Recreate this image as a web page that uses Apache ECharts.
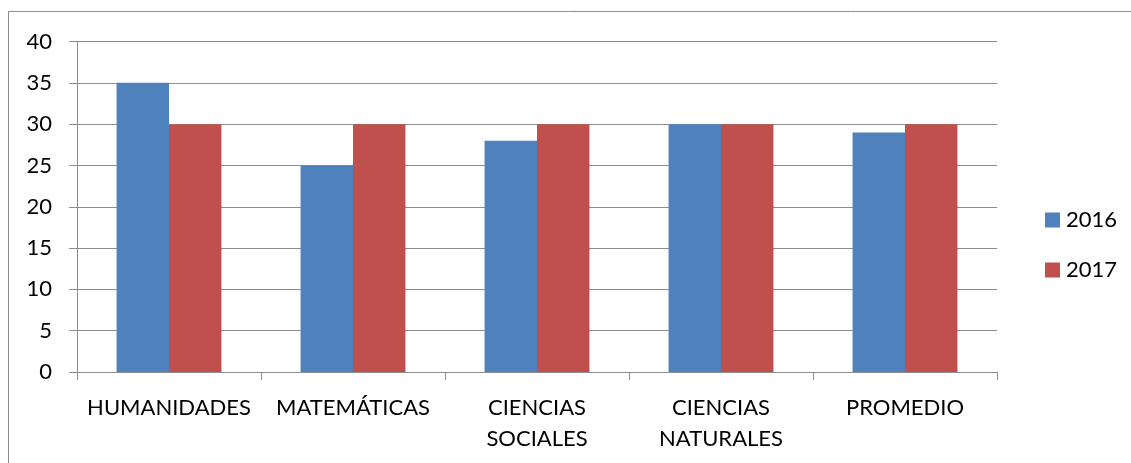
<!DOCTYPE html>
<html><head><meta charset="utf-8">
<script src="https://cdn.jsdelivr.net/npm/echarts@6/dist/echarts.min.js"></script>
<style>html,body{margin:0;padding:0;background:#fff}#c{width:1131px;height:463px}</style>
</head><body><div id="c"></div>
<script>
const categories = ['HUMANIDADES', 'MATEMÁTICAS', 'CIENCIAS\nSOCIALES', 'CIENCIAS\nNATURALES', 'PROMEDIO'];
const seriesNames = ['2016', '2017'];
const values2016 = [35, 25, 28, 30, 29];
const values2017 = [30, 30, 30, 30, 30];
const FONT = 'Lato';
const chart = echarts.init(document.getElementById('c'), null, {renderer: 'canvas'});
chart.setOption({
  animation: false,
  backgroundColor: '#fff',
  textStyle: {fontFamily: FONT, color: '#000'},
  graphic: [
    {type: 'line', shape: {x1: 8.5, y1: 11.5, x2: 1131, y2: 11.5}, style: {stroke: '#8c8c8c', lineWidth: 1}},
    {type: 'line', shape: {x1: 8.5, y1: 11.5, x2: 8.5, y2: 463}, style: {stroke: '#8c8c8c', lineWidth: 1}}
  ],
  grid: {left: 77, right: 134, top: 41.5, bottom: 91, containLabel: false},
  legend: {
    orient: 'vertical', left: 1040, top: 204, itemWidth: 15, itemHeight: 15, itemGap: 28,
    icon: 'rect', data: seriesNames,
    textStyle: {fontFamily: FONT, fontSize: 22, color: '#000', padding: [0, 0, 0, 1]}
  },
  xAxis: {
    type: 'category', data: categories,
    axisLine: {lineStyle: {color: '#8c8c8c', width: 1}},
    axisTick: {show: true, length: 8, lineStyle: {color: '#8c8c8c'}},
    axisLabel: {fontFamily: FONT, fontSize: 22, color: '#000', margin: 20, lineHeight: 31, interval: 0}
  },
  yAxis: {
    type: 'value', min: 0, max: 40, interval: 5,
    axisLine: {show: true, lineStyle: {color: '#8c8c8c', width: 1}},
    axisTick: {show: true, length: 8, lineStyle: {color: '#8c8c8c'}},
    splitLine: {lineStyle: {color: '#8c8c8c', width: 1}},
    axisLabel: {fontFamily: FONT, fontSize: 22, color: '#000', margin: 25}
  },
  series: [
    {name: seriesNames[0], type: 'bar', data: values2016, itemStyle: {color: '#4F81BD'}, barGap: '0%', barCategoryGap: '43%'},
    {name: seriesNames[1], type: 'bar', data: values2017, itemStyle: {color: '#C0504D'}, barGap: '0%', barCategoryGap: '43%'}
  ]
});
</script></body></html>
